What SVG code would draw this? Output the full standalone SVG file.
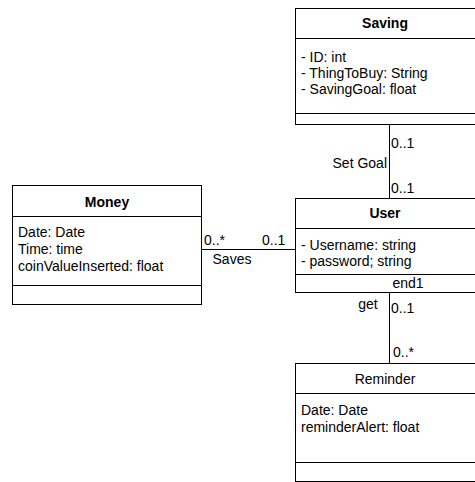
<svg xmlns="http://www.w3.org/2000/svg" width="475" height="482" viewBox="0 0 475 482">
<style>
.box{fill:#fff;stroke:#000;stroke-width:1}
.ln{stroke:#000;stroke-width:1;fill:none}
text{font-family:"Liberation Sans",Arial,sans-serif;font-size:14px;fill:#000}
.t{font-weight:bold;text-anchor:middle}
.m{text-anchor:middle}
</style>
<rect width="475" height="482" fill="#fff"/>
<g id="connectors">
<line class="ln" x1="201.5" y1="249.5" x2="295.5" y2="249.5"/>
<line class="ln" x1="389.5" y1="124.5" x2="389.5" y2="198.5"/>
<line class="ln" x1="389.5" y1="292.5" x2="389.5" y2="363.5"/>
<text x="204" y="245">0..*</text>
<text x="262" y="245">0..1</text>
<text x="232" y="264" class="m">Saves</text>
<text x="391" y="148">0..1</text>
<text x="387" y="168" text-anchor="end">Set Goal</text>
<text x="391" y="193">0..1</text>
<text x="368" y="309" class="m">get</text>
<text x="391" y="313">0..1</text>
<text x="393" y="357">0..*</text>
</g>
<g id="saving">
<rect class="box" x="295.5" y="8.5" width="181" height="116"/>
<line class="ln" x1="295.5" y1="38.5" x2="476" y2="38.5"/>
<line class="ln" x1="295.5" y1="113.5" x2="476" y2="113.5"/>
<text x="385" y="28" class="t">Saving</text>
<text x="301" y="62">- ID: int</text>
<text x="301" y="78">- ThingToBuy: String</text>
<text x="301" y="94">- SavingGoal: float</text>
</g>
<g id="money">
<rect class="box" x="12.5" y="185.5" width="189" height="119"/>
<line class="ln" x1="12.5" y1="216.5" x2="201.5" y2="216.5"/>
<line class="ln" x1="12.5" y1="285.5" x2="201.5" y2="285.5"/>
<text x="107" y="207" class="t">Money</text>
<text x="18" y="237">Date: Date</text>
<text x="18" y="254">Time: time</text>
<text x="18" y="271">coinValueInserted: float</text>
</g>
<g id="user">
<rect class="box" x="295.5" y="198.5" width="181" height="94"/>
<line class="ln" x1="295.5" y1="228.5" x2="476" y2="228.5"/>
<line class="ln" x1="295.5" y1="274.5" x2="476" y2="274.5"/>
<text x="385" y="218" class="t">User</text>
<text x="301" y="250">- Username: string</text>
<text x="301" y="266">- password; string</text>
<text x="408" y="288" class="m">end1</text>
</g>
<g id="reminder">
<rect class="box" x="295.5" y="363.5" width="181" height="118"/>
<line class="ln" x1="295.5" y1="393.5" x2="476" y2="393.5"/>
<line class="ln" x1="295.5" y1="462.5" x2="476" y2="462.5"/>
<text x="385" y="384" class="m">Reminder</text>
<text x="301" y="415">Date: Date</text>
<text x="301" y="432">reminderAlert: float</text>
</g>
</svg>
